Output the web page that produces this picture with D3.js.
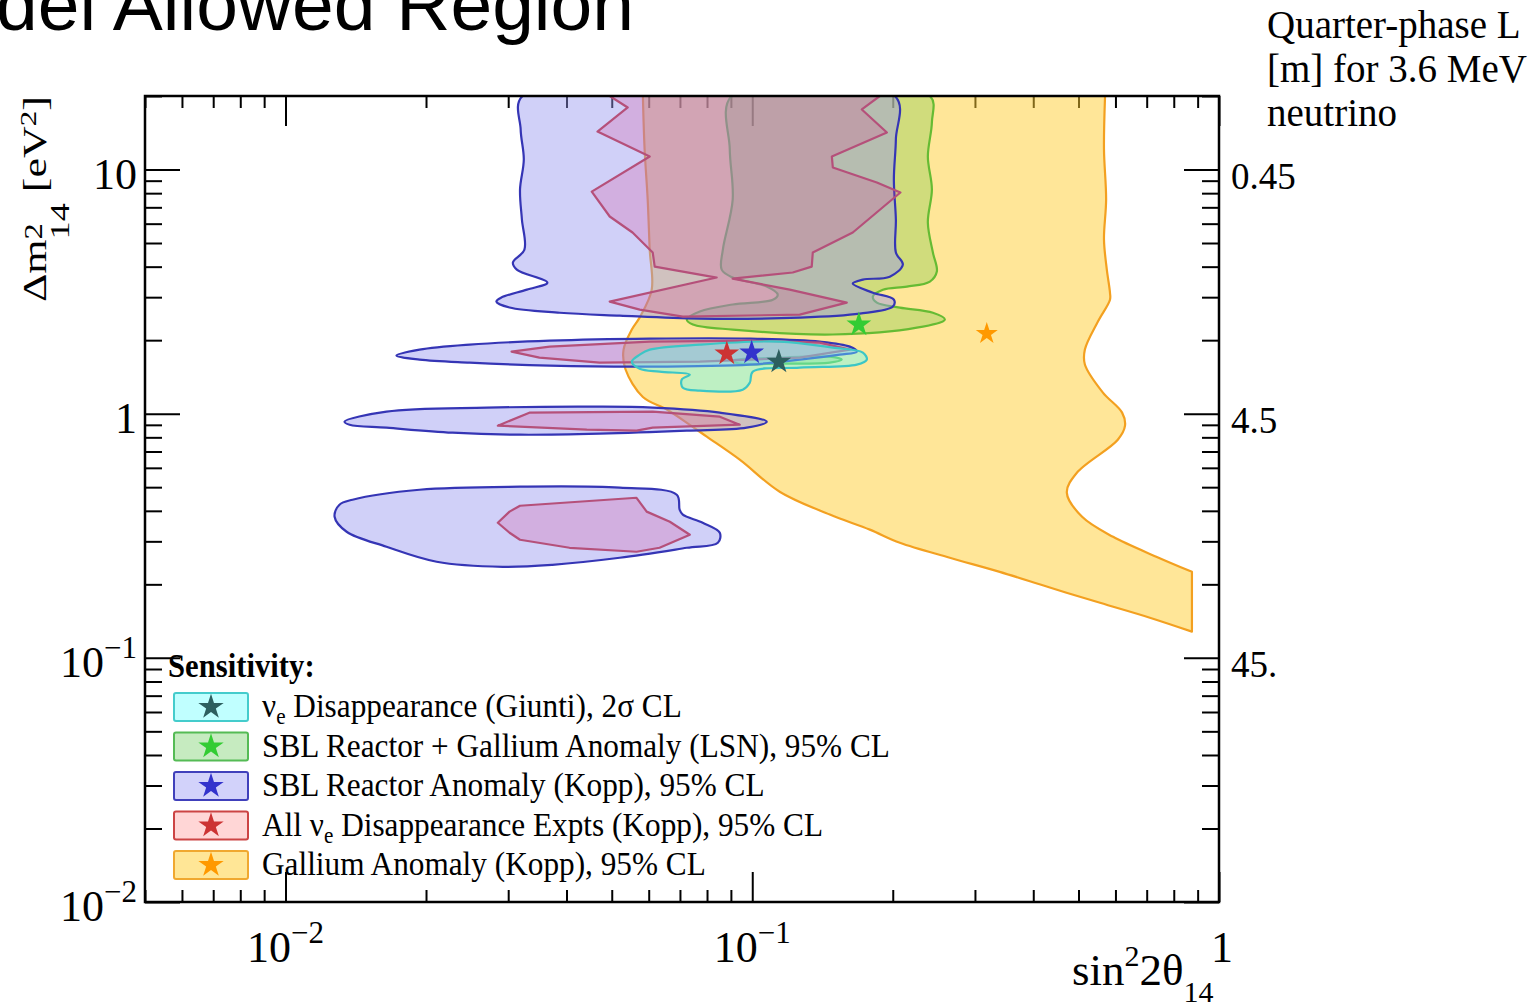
<!DOCTYPE html>
<html><head><meta charset="utf-8">
<script src="https://cdn.jsdelivr.net/npm/d3@7"></script>
<style>body{margin:0;background:#fff}svg{display:block}</style>
</head><body>
<svg id="c" width="1532" height="1005"></svg>
<script>
// ---------------- data (sin^2 2theta, dm^2 [eV^2]) ----------------
const xMajorTicks = [0.01, 0.1, 1];
const xTickLabels = [["10","\u22122"],["10","\u22121"],["1",""]];
const yMajorTicks = [0.01, 0.1, 1, 10];
const yTickLabels = [["10","\u22122"],["10","\u22121"],["1",""],["10",""]];
const rightTickValues = [10, 1, 0.1];
const rightTickLabels = ["0.45","4.5","45."];
const rightTitleLines = ["Quarter-phase L","[m] for 3.6 MeV","neutrino"];

const galliumKopp = [[0.0583,20],[0.0588,12.1],[0.0597,7.53],[0.0603,4.70],[0.0609,3.22],[0.0574,2.48],[0.0552,2.21],[0.0530,1.83],[0.0535,1.52],[0.0583,1.17],[0.0656,1.04],[0.0735,0.90],[0.0799,0.805],[0.094,0.648],[0.1145,0.479],[0.1466,0.386],[0.1786,0.335],[0.2071,0.296],[0.265,0.257],[0.339,0.225],[0.434,0.194],[0.556,0.168],[0.711,0.146],[0.875,0.128],[0.875,0.128],[0.875,0.225],[0.875,0.225],[0.736,0.259],[0.593,0.313],[0.509,0.378],[0.472,0.475],[0.496,0.573],[0.607,0.782],[0.629,0.893],[0.620,1.01],[0.564,1.22],[0.516,1.59],[0.516,1.83],[0.550,2.38],[0.584,2.93],[0.584,3.13],[0.575,3.89],[0.567,5.17],[0.573,7.53],[0.567,12.1],[0.570,20],[0.570,20],[0.0583,20]];

const reactorGalliumLSN = [[0.0904,20],[0.0895,12.1],[0.0908,7.53],[0.0865,4.70],[0.0860,3.89],[0.0908,3.61],[0.1074,3.315],[0.1134,3.07],[0.1107,2.93],[0.0908,2.80],[0.0772,2.62],[0.0724,2.43],[0.0746,2.32],[0.0908,2.21],[0.1488,2.11],[0.2252,2.25],[0.2586,2.43],[0.2438,2.59],[0.2071,2.72],[0.1849,2.85],[0.1813,3.02],[0.1905,3.22],[0.2144,3.315],[0.2402,3.475],[0.2486,3.82],[0.2438,4.57],[0.2378,6.07],[0.2426,8.28],[0.2378,11.3],[0.2426,15.6],[0.2402,20]];
const reactorGalliumLSN2 = [[0.0908,1.649],[0.1145,1.696],[0.1466,1.712],[0.1555,1.665],[0.1466,1.618],[0.1145,1.603],[0.094,1.603]];

const reactorKopp1 = [[0.0322,20],[0.0319,14.6],[0.0324,11.0],[0.0318,8.28],[0.0321,6.24],[0.0325,4.70],[0.0307,4.16],[0.0313,3.89],[0.0364,3.44],[0.0329,3.22],[0.0290,2.99],[0.0283,2.88],[0.0302,2.72],[0.0387,2.59],[0.0520,2.52],[0.0772,2.45],[0.1264,2.475],[0.170,2.57],[0.2001,2.745],[0.2011,2.93],[0.1813,3.13],[0.1642,3.41],[0.1726,3.54],[0.1971,3.64],[0.2102,4.08],[0.2031,4.57],[0.2031,6.24],[0.2011,9.10],[0.2031,13.3],[0.2021,20]];
const reactorKopp2 = [[0.01729,1.729],[0.01937,1.829],[0.0248,1.918],[0.0368,1.991],[0.0603,2.03],[0.0988,2.03],[0.1395,1.973],[0.1618,1.882],[0.1675,1.795],[0.1540,1.745],[0.1264,1.665],[0.0988,1.588],[0.0603,1.558],[0.0368,1.573],[0.0248,1.618],[0.01937,1.665]];
const reactorKopp3 = [[0.01338,0.927],[0.01646,1.019],[0.02698,1.058],[0.0471,1.068],[0.0612,1.058],[0.0852,1.0095],[0.1074,0.927],[0.0973,0.876],[0.0724,0.852],[0.0471,0.828],[0.0318,0.820],[0.0228,0.836],[0.01646,0.876],[0.01372,0.901]];
const reactorKopp4 = [[0.01305,0.4236],[0.01392,0.4441],[0.01937,0.488],[0.0318,0.5022],[0.052,0.4975],[0.0689,0.4656],[0.0699,0.4043],[0.071,0.3856],[0.0783,0.3575],[0.0852,0.3253],[0.0844,0.296],[0.0724,0.2823],[0.052,0.2569],[0.0373,0.2405],[0.0292,0.236],[0.02108,0.2474],[0.01646,0.285],[0.01352,0.3284],[0.01274,0.3783]];

const allNueKopp1 = [[0.0495,20],[0.0541,17.95],[0.0466,14.3],[0.0603,11.3],[0.0453,8.12],[0.0495,6.42],[0.0554,5.52],[0.0612,4.57],[0.0618,4.00],[0.0839,3.61],[0.0495,2.877],[0.0574,2.668],[0.0710,2.497],[0.1264,2.545],[0.1594,2.85],[0.1203,3.22],[0.0908,3.575],[0.1221,3.785],[0.1341,4.00],[0.1348,4.57],[0.1642,5.52],[0.2077,8.05],[0.1849,8.85],[0.1488,10.19],[0.1481,11.3],[0.1943,14.18],[0.1717,17.62],[0.1876,20]];
const allNueKopp2 = [[0.0305,1.795],[0.0368,1.882],[0.0603,1.973],[0.0988,1.991],[0.1395,1.954],[0.1618,1.829],[0.1264,1.696],[0.0772,1.633],[0.0471,1.618],[0.0350,1.696]];
const allNueKopp3 = [[0.0285,0.893],[0.0333,1.0095],[0.0612,1.019],[0.0852,0.972],[0.094,0.901],[0.0612,0.876],[0.0565,0.852],[0.0442,0.860]];
const allNueKopp4 = [[0.0285,0.3575],[0.0302,0.397],[0.0318,0.4197],[0.0565,0.4524],[0.0594,0.397],[0.0666,0.3609],[0.0735,0.3192],[0.0633,0.2823],[0.0565,0.2719],[0.0406,0.2823],[0.0318,0.3045],[0.0302,0.3253]];

const giunti = [[0.0552,1.633],[0.0574,1.745],[0.0603,1.829],[0.0772,1.918],[0.1145,1.973],[0.1488,1.864],[0.1726,1.778],[0.176,1.665],[0.1675,1.588],[0.1264,1.543],[0.1003,1.486],[0.0988,1.34],[0.0954,1.254],[0.0772,1.243],[0.071,1.278],[0.0706,1.378],[0.0735,1.445],[0.0633,1.486],[0.0574,1.529]];

// best fit points, legend order
const bestFitX = [0.1140, 0.1692, 0.0997, 0.0882, 0.318];
const bestFitY = [1.633, 2.316, 1.778, 1.762, 2.128];

const legendLabels = ["\u03BD|e| Disappearance (Giunti), 2\u03C3 CL","SBL Reactor + Gallium Anomaly (LSN), 95% CL","SBL Reactor Anomaly (Kopp), 95% CL","All \u03BD|e| Disappearance Expts (Kopp), 95% CL","Gallium Anomaly (Kopp), 95% CL"];

// ---------------- styles ----------------
const serif = "'Liberation Serif','Times New Roman',Times,serif";
const styles = [
  {fill:"rgba(100,255,255,0.42)", stroke:"#3cc6c6", lfill:"#c0ffff", lstroke:"#44cccc", star:"#2d5f5f"},
  {fill:"rgba(100,200,60,0.3)", stroke:"#66bb33", lfill:"#c6ebc0", lstroke:"#55bb55", star:"#33cc33"},
  {fill:"rgba(150,150,240,0.45)", stroke:"#3535b5", lfill:"#d2d2fa", lstroke:"#4040bb", star:"#3333cc"},
  {fill:"rgba(217,58,143,0.22)", stroke:"#b5507a", lfill:"#ffd6d6", lstroke:"#cc4444", star:"#cc3333"},
  {fill:"rgba(255,205,50,0.5)", stroke:"#f3a020", lfill:"#ffe696", lstroke:"#f0a830", star:"#ff9900"}
];

const svg = d3.select("#c");
const x = d3.scaleLog().domain([0.005, 1]).range([145, 1219]);
const y = d3.scaleLog().domain([0.01, 20]).range([902, 96]);

// title (cropped)
svg.append("text").attr("x",-4).attr("y",30).attr("font-family","'Liberation Sans',Arial,sans-serif")
  .attr("font-size",75).attr("fill","#000").text("del Allowed Region");

// ---------------- ticks ----------------
const isMajor = v => Math.abs(Math.log10(v) - Math.round(Math.log10(v))) < 1e-9;
const xMinor = x.ticks().filter(v => !isMajor(v));
const yMinor = y.ticks().filter(v => !isMajor(v));
function tickAxis(axisFn, scale, vals, size, tx, ty) {
  const g = svg.append("g").attr("transform",`translate(${tx},${ty})`)
    .call(axisFn(scale).tickValues(vals).tickSize(-size).tickSizeOuter(0).tickFormat(""));
  g.select(".domain").remove();
  g.selectAll("line").attr("stroke","#000").attr("stroke-width",2);
}
tickAxis(d3.axisBottom, x, xMajorTicks, 30, 0, 902);
tickAxis(d3.axisBottom, x, xMinor, 12, 0, 902);
tickAxis(d3.axisTop, x, xMajorTicks, 30, 0, 96);
tickAxis(d3.axisTop, x, xMinor, 12, 0, 96);
tickAxis(d3.axisLeft, y, yMajorTicks, 35, 145, 0);
tickAxis(d3.axisLeft, y, yMinor, 17, 145, 0);
tickAxis(d3.axisRight, y, yMajorTicks, 35, 1219, 0);
tickAxis(d3.axisRight, y, yMinor, 17, 1219, 0);

// ---------------- regions ----------------
svg.append("defs").append("clipPath").attr("id","pc").append("rect")
  .attr("x",145).attr("y",96).attr("width",1074).attr("height",806);
const plot = svg.append("g").attr("clip-path","url(#pc)");
function region(pts, st, curve) {
  const gen = d3.line().x(d => x(d[0])).y(d => y(d[1])).curve(curve);
  plot.append("path").datum(pts).attr("d", gen).attr("fill", st.fill)
    .attr("stroke", st.stroke).attr("stroke-width", 2.2).attr("stroke-linejoin","round");
}
const smooth = d3.curveCatmullRomClosed.alpha(0.5);
region(galliumKopp, styles[4], smooth);
region(reactorGalliumLSN, styles[1], smooth);
region(reactorGalliumLSN2, styles[1], smooth);
[reactorKopp1, reactorKopp2, reactorKopp3, reactorKopp4].forEach(r => region(r, styles[2], smooth));
[allNueKopp1, allNueKopp2, allNueKopp3, allNueKopp4].forEach(r => region(r, styles[3], d3.curveLinearClosed));
region(giunti, styles[0], smooth);

// best-fit stars
const starPath = d3.symbol().type(d3.symbolStar);
[4,1,3,2,0].forEach(i => {
  plot.append("path").attr("d", starPath.size(i===4?150:190)())
    .attr("transform",`translate(${x(bestFitX[i])},${y(bestFitY[i])})`).attr("fill", styles[i].star);
});

// frame
svg.append("rect").attr("x",145).attr("y",96).attr("width",1074).attr("height",806)
  .attr("fill","none").attr("stroke","#000").attr("stroke-width",2.5);

// ---------------- tick labels ----------------
function powLabel(t, parts, big, sup) {
  t.append("tspan").attr("font-size",big).text(parts[0]);
  if (parts[1]) t.append("tspan").attr("font-size",sup).attr("dy",-19).text(parts[1]);
}
xMajorTicks.forEach((v,i) => {
  const t = svg.append("text").attr("x", x(v) + (xTickLabels[i][1] ? 0 : 3)).attr("y",962)
    .attr("text-anchor","middle").attr("font-family",serif).attr("fill","#000");
  powLabel(t, xTickLabels[i], 44, 31);
});
yMajorTicks.forEach((v,i) => {
  const t = svg.append("text").attr("x",137).attr("y", y(v)+19)
    .attr("text-anchor","end").attr("font-family",serif).attr("fill","#000");
  powLabel(t, yTickLabels[i], 44, 31);
});
rightTickValues.forEach((v,i) => {
  svg.append("text").attr("x",1231).attr("y", y(v)+19).attr("font-family",serif)
    .attr("font-size",37).attr("fill","#000").text(rightTickLabels[i]);
});
rightTitleLines.forEach((s,i) => {
  svg.append("text").attr("x",1267).attr("y",38+44*i).attr("font-family",serif)
    .attr("font-size",39).attr("fill","#000").text(s);
});

// ---------------- axis titles ----------------
const xt = svg.append("text").attr("x",1072).attr("y",985).attr("font-family",serif).attr("font-size",45).attr("fill","#000");
xt.append("tspan").text("sin");
xt.append("tspan").attr("font-size",30).attr("dy",-19).text("2");
xt.append("tspan").attr("dy",19).text("2\u03B8");
xt.append("tspan").attr("font-size",30).attr("dy",17).text("14");

const yt = svg.append("text").attr("font-family",serif).attr("font-size",34).attr("fill","#000");
yt.append("tspan").text("\u0394m");
yt.append("tspan").attr("font-size",25).attr("dy",-4).text("2");
yt.append("tspan").attr("font-size",28).attr("dx",-12.5).attr("dy",27).text("14");
yt.append("tspan").attr("dy",-23).text(" [eV");
yt.append("tspan").attr("font-size",24).attr("dy",-10).text("2");
yt.append("tspan").attr("dy",10).text("]");
const ytw = yt.node().getBBox().width;
yt.attr("transform",`translate(46,302) rotate(-90) scale(${206/ytw},1)`);

// ---------------- legend ----------------
const lg = svg.append("g");
lg.append("text").attr("transform","translate(168,677) scale(0.93,1)").attr("font-family",serif).attr("font-weight","bold")
  .attr("font-size",33).attr("fill","#000").text("Sensitivity:");
legendLabels.forEach((lab,i) => {
  const cy = 707 + i*39.5;
  lg.append("rect").attr("x",174).attr("y",cy-14).attr("width",74).attr("height",28).attr("rx",2)
    .attr("fill",styles[i].lfill).attr("stroke",styles[i].lstroke).attr("stroke-width",2);
  lg.append("path").attr("d", starPath.size(200)()).attr("transform",`translate(211,${cy})`).attr("fill",styles[i].star);
  const t = lg.append("text").attr("transform",`translate(262,${cy+10}) scale(0.92,1)`)
    .attr("font-family",serif).attr("font-size",34).attr("fill","#000");
  const parts = lab.split("|");
  t.append("tspan").text(parts[0]);
  if (parts.length > 1) {
    t.append("tspan").attr("font-size",23).attr("dy",7).text(parts[1]);
    t.append("tspan").attr("dy",-7).text(parts[2]);
  }
});
</script>
</body></html>
